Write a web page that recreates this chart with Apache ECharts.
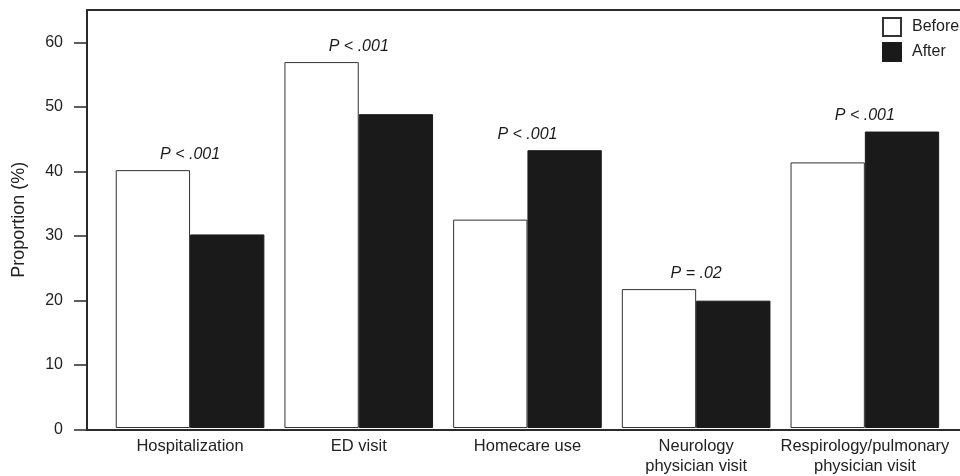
<!DOCTYPE html>
<html>
<head>
<meta charset="utf-8">
<script src="https://cdn.jsdelivr.net/npm/echarts@6/dist/echarts.min.js"></script>
<style>
html,body{margin:0;padding:0;background:#fff;}
#chart{width:960px;height:476px;}
</style>
</head>
<body>
<div id="chart"></div>
<script>
var categories = ['Hospitalization', 'ED visit', 'Homecare use', 'Neurology\nphysician visit', 'Respirology/pulmonary\nphysician visit'];
var beforeValues = [40.1, 56.9, 32.4, 21.6, 41.3];
var afterValues = [30.1, 48.8, 43.2, 19.8, 46.1];
var pLabels = ['P < .001', 'P < .001', 'P < .001', 'P = .02', 'P < .001'];
var yTicks = [0, 10, 20, 30, 40, 50, 60];
var yMax = 65;

var labelAnchor = beforeValues.map(function (v, i) { return Math.max(v, afterValues[i]); });

var font = "'Liberation Sans', Arial, Helvetica, sans-serif";
var frameLine = {show: true, onZero: false, lineStyle: {color: '#2a2a2a', width: 2}};
var chart = echarts.init(document.getElementById('chart'), null, {renderer: 'canvas'});
chart.setOption({
  animation: false,
  backgroundColor: '#fff',
  textStyle: {fontFamily: font, color: '#222'},
  legend: {
    orient: 'vertical',
    left: 877,
    top: 12,
    itemWidth: 18,
    itemHeight: 18,
    itemGap: 5,
    icon: 'rect',
    selectedMode: false,
    textStyle: {fontFamily: font, fontSize: 16, color: '#222', padding: [0, 0, 0, 6]},
    data: ['Before', 'After']
  },
  grid: [
    {left: 87, top: 10, right: 0, bottom: 46.5},
    {left: 105.7, top: 10, right: 10.8, bottom: 46.5}
  ],
  xAxis: [
    {
      type: 'category', gridIndex: 1, data: categories,
      axisLine: {show: false}, axisTick: {show: false},
      axisLabel: {fontFamily: font, fontSize: 16.5, color: '#222', margin: 8, lineHeight: 20, interval: 0}
    },
    {
      type: 'value', gridIndex: 0, min: 0, max: 1, z: 10, position: 'bottom',
      axisLine: frameLine, axisTick: {show: false}, axisLabel: {show: false}, splitLine: {show: false}
    },
    {
      type: 'value', gridIndex: 0, min: 0, max: 1, z: 10, position: 'top',
      axisLine: frameLine, axisTick: {show: false}, axisLabel: {show: false}, splitLine: {show: false}
    }
  ],
  yAxis: [
    {
      type: 'value', gridIndex: 0, min: 0, max: yMax, z: 10,
      name: 'Proportion (%)', nameLocation: 'middle', nameGap: 59, nameRotate: 90,
      nameTextStyle: {fontFamily: font, fontSize: 18, color: '#222'},
      axisLine: {show: true, lineStyle: {color: '#2a2a2a', width: 2}},
      axisTick: {show: true, length: 13, customValues: yTicks, lineStyle: {color: '#2a2a2a', width: 1.5}},
      axisLabel: {fontFamily: font, fontSize: 16, color: '#222', margin: 24, customValues: yTicks},
      splitLine: {show: false}
    },
    {type: 'value', gridIndex: 1, min: 0, max: yMax, show: false}
  ],
  series: [
    {
      name: 'Before', type: 'bar', xAxisIndex: 0, yAxisIndex: 1,
      data: beforeValues, barGap: '0%', barCategoryGap: '11.9%',
      itemStyle: {color: '#ffffff', borderColor: '#333', borderWidth: 1}
    },
    {
      name: 'After', type: 'bar', xAxisIndex: 0, yAxisIndex: 1,
      data: afterValues, barGap: '0%', barCategoryGap: '11.9%',
      itemStyle: {color: '#1a1a1a', borderColor: '#1a1a1a', borderWidth: 1}
    },
    {
      name: 'p', type: 'scatter', xAxisIndex: 0, yAxisIndex: 1, z: 5,
      data: labelAnchor, symbolSize: 0, itemStyle: {color: 'rgba(0,0,0,0)'}, silent: true,
      label: {
        show: true, position: 'top', distance: 8, opacity: 1,
        fontFamily: font, fontSize: 16, fontStyle: 'italic', color: '#1a1a1a',
        formatter: function (p) { return pLabels[p.dataIndex]; }
      }
    }
  ]
});
</script>
</body>
</html>
